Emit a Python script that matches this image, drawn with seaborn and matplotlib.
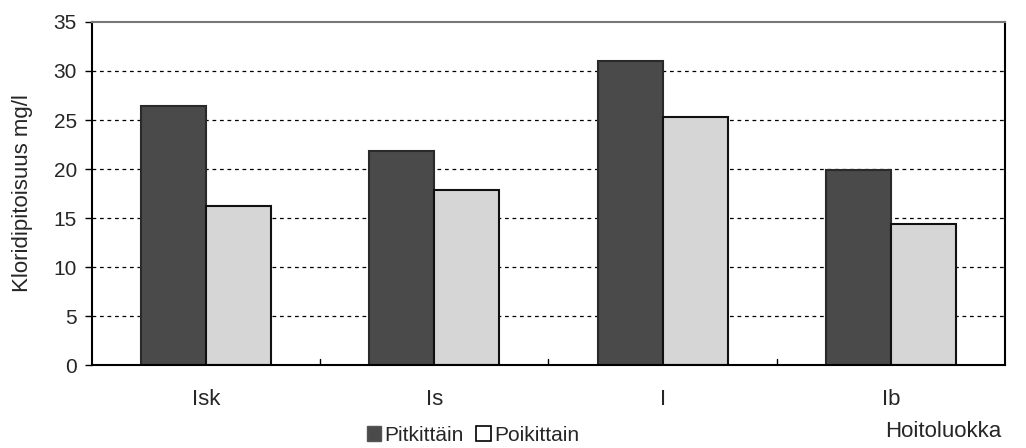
import matplotlib
matplotlib.use("Agg")
import matplotlib.pyplot as plt
import seaborn as sns
import pandas as pd
from matplotlib.patches import Patch

categories = ["Isk", "Is", "I", "Ib"]
pitkittain = [26.4, 21.8, 31.0, 19.9]
poikittain = [16.2, 17.9, 25.3, 14.4]
series_names = ["Pitkittäin", "Poikittain"]
y_ticks = [0, 5, 10, 15, 20, 25, 30, 35]

df = pd.DataFrame({
    "Hoitoluokka": categories * 2,
    "Kloridi": pitkittain + poikittain,
    "Suunta": [series_names[0]] * 4 + [series_names[1]] * 4,
})

sns.set_style("white")
plt.rcParams["font.family"] = ["Liberation Sans", "DejaVu Sans"]

fig = plt.figure(figsize=(10.26, 4.48), dpi=100)
ax = fig.add_axes([0.0897, 0.185, 0.8898, 0.766])

colors = ["#4a4a4a", "#d6d6d6"]
sns.barplot(data=df, x="Hoitoluokka", y="Kloridi", hue="Suunta",
            palette=colors, width=0.57, ax=ax, legend=False,
            saturation=1)

for bar, ec in zip(ax.patches, ["#2a2a2a"] * 4 + ["#111111"] * 4):
    bar.set_edgecolor(ec)
    bar.set_linewidth(1.5)

ax.set_ylim(0, 35)
ax.set_xlim(-0.5, 3.5)
ax.set_yticks(y_ticks)
ax.set_yticklabels([str(t) for t in y_ticks], fontsize=15)
for t in y_ticks[1:-1]:
    ax.axhline(t, color="black", linestyle=(0, (3, 3)), linewidth=0.9, zorder=0)

# category labels sit well below the axis
ax.set_xticks(range(len(categories)))
ax.set_xticklabels(categories, fontsize=16)
ax.tick_params(axis="x", length=0, pad=17)
ax.tick_params(axis="y", direction="out", length=5, width=1, color="black",
               left=True, pad=6)

# small boundary ticks between categories
for xb in [0.5, 1.5, 2.5]:
    ax.plot([xb, xb], [0, 0.6], color="black", linewidth=1, zorder=3)

for side in ["left", "right", "bottom"]:
    ax.spines[side].set_color("black")
    ax.spines[side].set_linewidth(1.5)
ax.spines["top"].set_color("#777777")
ax.spines["top"].set_linewidth(1.5)

ax.set_xlabel("")
ax.set_ylabel("")
fig.text(23 / 1026, 1 - 193 / 448, "Kloridipitoisuus mg/l", rotation=90,
         ha="center", va="center", fontsize=16)

handles = [Patch(facecolor=colors[0], edgecolor="#555555"),
           Patch(facecolor="white", edgecolor="black", linewidth=1.2)]
fig.legend(handles, series_names, loc="center", bbox_to_anchor=(0.461, 0.029),
           ncol=2, frameon=False, fontsize=15, handlelength=0.7, handleheight=0.7,
           handletextpad=0.15, columnspacing=0.6, borderaxespad=0, borderpad=0)

fig.text(0.919, 0.036, "Hoitoluokka", ha="center", va="center", fontsize=16)

fig.savefig("out.png", dpi=100, facecolor="white")
